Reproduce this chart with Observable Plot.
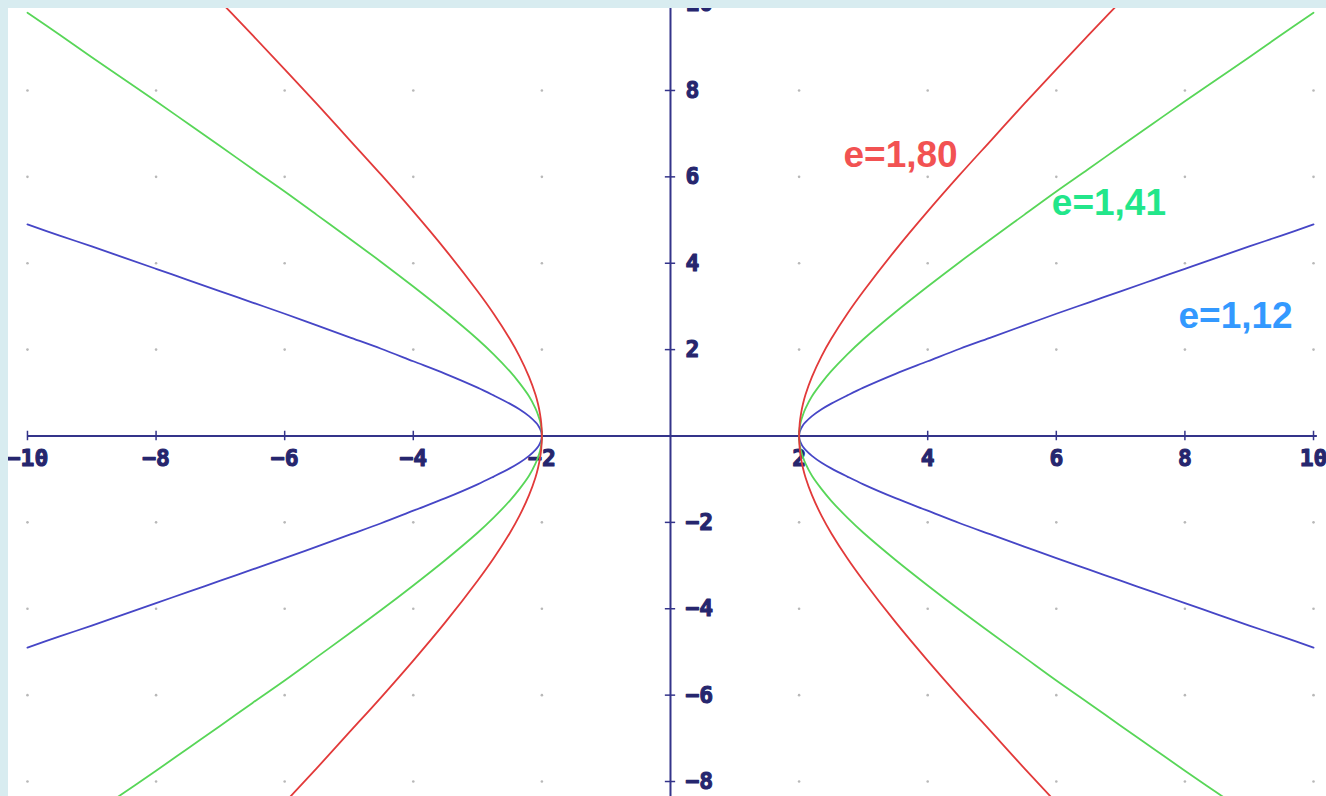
<!DOCTYPE html>
<html>
<head>
<meta charset="utf-8">
<script src="https://cdn.jsdelivr.net/npm/d3@7"></script>
<script src="https://cdn.jsdelivr.net/npm/@observablehq/plot@0.6"></script>
<style>
  html, body { margin: 0; padding: 0; background: #d8ecf0; }
  body { padding: 8px 0 0 8px; width: 1318px; height: 788px; overflow: hidden; }
  #chart svg { display: block; background: #ffffff; }
</style>
</head>
<body>
<div id="chart"></div>
<script>
// x positions along the upper right branch (all three curves)
const xs      = [2, 2.01, 2.03, 2.06, 2.1, 2.2, 2.35, 2.5, 2.75, 3, 3.5, 4, 4.5, 5, 5.5, 6, 6.5, 7, 7.5, 8, 8.5, 9, 9.5, 10];
// y of each curve at those x (upper branch; the picture is mirror-symmetric in both axes)
const blueY   = [0, 0.10, 0.17, 0.25, 0.32, 0.46, 0.62, 0.75, 0.94, 1.12, 1.44, 1.73, 2.02, 2.29, 2.56, 2.83, 3.09, 3.35, 3.61, 3.87, 4.13, 4.39, 4.64, 4.90];
const greenY  = [0, 0.20, 0.35, 0.49, 0.64, 0.92, 1.23, 1.50, 1.89, 2.24, 2.87, 3.46, 4.03, 4.58, 5.12, 5.66, 6.18, 6.71, 7.23, 7.75, 8.26, 8.77, 9.29, 9.80];
const redY    = [0, 0.30, 0.52, 0.74, 0.96, 1.37, 1.85, 2.25, 2.83, 3.35, 4.31, 5.20, 6.05, 6.87, 7.69, 8.49, 9.28, 10.06, 10.84];

const seriesNames = ["e=1,80", "e=1,41", "e=1,12"];
const xTicks = [-10, -8, -6, -4, -2, 2, 4, 6, 8, 10];
const yTicks = [-8, -6, -4, -2, 2, 4, 6, 8, 10];
const gridX  = [-10, -8, -6, -4, -2, 0, 2, 4, 6, 8, 10];
const gridY  = [-8, -6, -4, -2, 0, 2, 4, 6, 8, 10];

const lineColors  = {"e=1,80": "#e23a3a", "e=1,41": "#58d658", "e=1,12": "#4646c6"};
const labelColors = {"e=1,80": "#f25252", "e=1,41": "#22e68a", "e=1,12": "#3399ff"};

function branches(name, ys) {
  const rows = [];
  for (const sx of [1, -1]) {
    for (let i = ys.length - 1; i >= 1; i--) rows.push({x: sx * xs[i], y: -ys[i], s: name, z: name + sx});
    for (let i = 0; i < ys.length; i++) rows.push({x: sx * xs[i], y: ys[i], s: name, z: name + sx});
  }
  return rows;
}
const curves = [
  ...branches("e=1,12", blueY),
  ...branches("e=1,41", greenY),
  ...branches("e=1,80", redY)
];

const grid = gridX.flatMap(x => gridY.map(y => ({x, y}))).filter(d => d.x !== 0 && d.y !== 0);

const labels = [
  {s: "e=1,80", x: 2.69, y: 6.22},
  {s: "e=1,41", x: 5.93, y: 5.11},
  {s: "e=1,12", x: 7.90, y: 2.51}
];

const fmt = d => (d < 0 ? "\u2212" : "") + Math.abs(d);
const axisColor = "#34348a";
const tickFont = {fontFamily: "DejaVu Sans Mono", fontWeight: "bold", fontSize: 23, fill: "#26266e", stroke: "#26266e", strokeWidth: 1.1};

const chart = Plot.plot({
  width: 1318,
  height: 788,
  marginLeft: 0, marginRight: 0, marginTop: 0, marginBottom: 0,
  x: {domain: [-10.295, 10.202], axis: null},
  y: {domain: [-8.347, 9.898], axis: null},
  marks: [
    Plot.dot(grid, {x: "x", y: "y", r: 1.3, fill: "#b8b8b8", stroke: null}),
    Plot.ruleY([0], {x1: xTicks[0], x2: xTicks[xTicks.length - 1] + 0.06, stroke: axisColor, strokeWidth: 2}),
    Plot.ruleX([0], {stroke: axisColor, strokeWidth: 2}),
    Plot.ruleX(xTicks, {x: d => d, y1: -0.11, y2: 0.11, stroke: axisColor, strokeWidth: 1.5}),
    Plot.ruleY(yTicks, {y: d => d, x1: -0.08, x2: 0.08, stroke: axisColor, strokeWidth: 1.5}),
    Plot.text(xTicks, {x: d => d, y: 0, dy: 23, text: fmt, ...tickFont}),
    Plot.text(yTicks, {x: 0, y: d => d, dx: 15, text: fmt, textAnchor: "start", ...tickFont}),
    Plot.line(curves, {x: "x", y: "y", z: "z", stroke: d => lineColors[d.s], strokeWidth: 1.8, curve: "catmull-rom", clip: true}),
    Plot.text(labels, {x: "x", y: "y", text: "s", fill: d => labelColors[d.s], textAnchor: "start", lineAnchor: "bottom",
      fontFamily: "Liberation Sans, Arial, sans-serif", fontWeight: "bold", fontSize: 37})
  ]
});
document.getElementById("chart").appendChild(chart);
</script>
</body>
</html>
